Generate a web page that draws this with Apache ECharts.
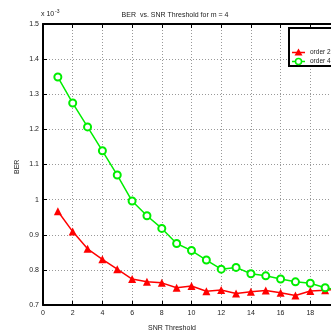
<!DOCTYPE html>
<html><head><meta charset="utf-8">
<script src="https://cdn.jsdelivr.net/npm/echarts@6/dist/echarts.min.js"></script>
<style>html,body{margin:0;padding:0;background:#fff}#c{width:331px;height:333px}</style>
</head><body><div id="c"></div>
<script>
var snr = [1,2,3,4,5,6,7,8,9,10,11,12,13,14,15,16,17,18,19,20];
var order2 = [0.967,0.909,0.860,0.830,0.802,0.774,0.766,0.763,0.749,0.754,0.739,0.743,0.733,0.738,0.741,0.735,0.727,0.740,0.742,0.745];
var order4 = [1.349,1.275,1.207,1.139,1.070,0.996,0.954,0.918,0.875,0.855,0.828,0.802,0.807,0.789,0.783,0.774,0.766,0.762,0.749,0.742];
var seriesNames = ['order 2', 'order 4'];
var font = 'Liberation Sans, Arial, sans-serif';
var RED = '#ff0000', GREEN = '#00ee00';
function pairs(xs, ys){ return xs.map(function(x,i){ return [x, ys[i]]; }); }
var chart = echarts.init(document.getElementById('c'));
chart.setOption({
  animation: false,
  textStyle: {fontFamily: font},
  title: {text: 'BER  vs. SNR Threshold for m = 4', left: 170, top: 7, textAlign: 'center',
    textStyle: {fontSize: 7, fontWeight: 'normal', color: '#222', fontFamily: font}},
  grid: {left: 43, top: 24, width: 297, height: 281, outerBoundsMode: 'none', containLabel: false},
  graphic: [
    {type: 'text', left: 41, top: 11, style: {text: 'x 10', fill: '#222', font: '7px Liberation Sans'}},
    {type: 'text', left: 55, top: 9, style: {text: '-3', fill: '#222', font: '5px Liberation Sans'}},
    {type: 'text', left: 148, top: 325, style: {text: 'SNR Threshold', fill: '#222', font: '7px Liberation Sans'}},
    {type: 'text', x: 14, y: 174, rotation: Math.PI/2, style: {text: 'BER', fill: '#222', font: '7px Liberation Sans'}},
    {type: 'rect', z: 50, shape: {x: 289, y: 28, width: 60, height: 38}, style: {fill: '#fff', stroke: '#000', lineWidth: 2}},
    {type: 'line', z: 51, shape: {x1: 292, y1: 52.5, x2: 305, y2: 52.5}, style: {stroke: RED, lineWidth: 1.5}},
    {type: 'polygon', z: 52, shape: {points: [[298.5, 48.5], [294.5, 55.5], [302.5, 55.5]]}, style: {fill: RED}},
    {type: 'text', z: 52, x: 310, y: 52.5, style: {text: seriesNames[0], fill: '#222', font: '6.5px Liberation Sans', verticalAlign: 'middle'}},
    {type: 'line', z: 51, shape: {x1: 292, y1: 61.5, x2: 305, y2: 61.5}, style: {stroke: GREEN, lineWidth: 1.5}},
    {type: 'circle', z: 52, shape: {cx: 298.5, cy: 61.5, r: 3}, style: {fill: '#fff', stroke: GREEN, lineWidth: 1.5}},
    {type: 'text', z: 52, x: 310, y: 61.5, style: {text: seriesNames[1], fill: '#222', font: '6.5px Liberation Sans', verticalAlign: 'middle'}}
  ],
  xAxis: [{
    type: 'value', min: 0, max: 20, interval: 2, position: 'bottom',
    axisLine: {lineStyle: {color: '#000', width: 2}},
    axisTick: {inside: true, length: 4, lineStyle: {color: '#000'}},
    axisLabel: {fontSize: 7, color: '#222', margin: 5, fontFamily: font},
    splitLine: {show: true, lineStyle: {color: '#999', type: [1, 2], width: 1}}
  }, {
    type: 'value', min: 0, max: 20, interval: 2, position: 'top',
    axisLine: {show: true, lineStyle: {color: '#000', width: 2}},
    axisTick: {inside: true, length: 4, lineStyle: {color: '#000'}},
    axisLabel: {show: false}, splitLine: {show: false}
  }],
  yAxis: {
    type: 'value', min: 0.7, max: 1.5, interval: 0.1,
    axisLine: {show: true, lineStyle: {color: '#000', width: 2}},
    axisTick: {show: true, inside: true, length: 4, lineStyle: {color: '#000'}},
    axisLabel: {fontSize: 7, color: '#222', margin: 4, fontFamily: font,
      formatter: function(v){ return String(Math.round(v*10)/10); }},
    splitLine: {show: true, lineStyle: {color: '#999', type: [1, 2], width: 1}}
  },
  series: [{
    name: seriesNames[0], type: 'line', data: pairs(snr, order2),
    symbol: 'triangle', symbolSize: 8, color: RED,
    lineStyle: {width: 1.5, color: RED},
    itemStyle: {color: RED}
  }, {
    name: seriesNames[1], type: 'line', data: pairs(snr, order4),
    symbol: 'emptyCircle', symbolSize: 7, color: GREEN,
    lineStyle: {width: 1.5, color: GREEN},
    itemStyle: {color: GREEN, borderWidth: 1.5, borderColor: GREEN}
  }]
});
</script></body></html>
